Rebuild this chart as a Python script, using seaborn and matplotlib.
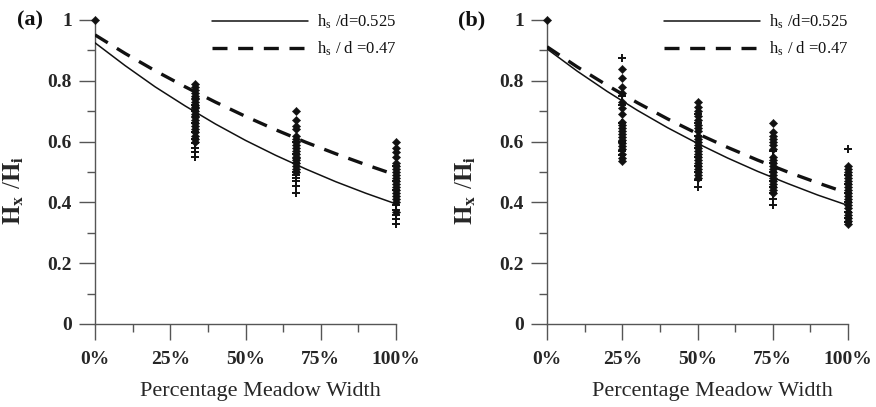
import matplotlib
matplotlib.use("Agg")  # headless
import matplotlib.pyplot as plt
from matplotlib.ticker import MultipleLocator, FuncFormatter
import pandas as pd
import seaborn as sns

# fitted curves, every 10 %
curve_x = [0, 10, 20, 30, 40, 50, 60, 70, 80, 90, 100]
a_solid = [0.925, 0.850, 0.780, 0.717, 0.658, 0.604, 0.555, 0.510, 0.468, 0.430, 0.395]
a_dashed = [0.951, 0.890, 0.833, 0.780, 0.730, 0.683, 0.639, 0.598, 0.560, 0.524, 0.490]
b_solid = [0.905, 0.832, 0.765, 0.703, 0.646, 0.594, 0.546, 0.502, 0.462, 0.424, 0.390]
b_dashed = [0.912, 0.846, 0.785, 0.728, 0.675, 0.626, 0.581, 0.539, 0.500, 0.464, 0.430]

# measured points (x in % of meadow width)
a_diamond = {
    0: [1.0],
    100 / 3: [0.79, 0.78, 0.77, 0.76, 0.75, 0.745, 0.74, 0.73, 0.72, 0.715, 0.71, 0.70,
              0.69, 0.685, 0.68, 0.67, 0.66, 0.65, 0.64, 0.63, 0.62, 0.61, 0.60],
    200 / 3: [0.70, 0.67, 0.65, 0.64, 0.62, 0.61, 0.60, 0.59, 0.58, 0.57, 0.56, 0.55,
              0.545, 0.54, 0.53, 0.52, 0.51, 0.50],
    100: [0.60, 0.58, 0.565, 0.55, 0.53, 0.52, 0.51, 0.50, 0.49, 0.48, 0.47, 0.46,
          0.45, 0.44, 0.43, 0.42, 0.41, 0.40, 0.37],
}
a_plus = {
    100 / 3: [0.72, 0.70, 0.66, 0.63, 0.61, 0.595, 0.58, 0.565, 0.55],
    200 / 3: [0.60, 0.56, 0.53, 0.50, 0.49, 0.48, 0.47, 0.455, 0.43],
    100: [0.52, 0.47, 0.44, 0.39, 0.375, 0.36, 0.345, 0.33],
}
b_diamond = {
    0: [1.0],
    25: [0.84, 0.81, 0.78, 0.76, 0.73, 0.71, 0.69, 0.665, 0.655, 0.645, 0.635, 0.625,
         0.615, 0.605, 0.595, 0.585, 0.575, 0.56, 0.545, 0.535],
    50: [0.73, 0.715, 0.70, 0.685, 0.67, 0.655, 0.645, 0.635, 0.62, 0.61, 0.60, 0.59,
         0.58, 0.57, 0.56, 0.55, 0.54, 0.53, 0.52, 0.51, 0.50, 0.49, 0.48],
    75: [0.66, 0.63, 0.62, 0.61, 0.60, 0.59, 0.575, 0.55, 0.54, 0.53, 0.52, 0.51,
         0.50, 0.49, 0.48, 0.47, 0.46, 0.45, 0.44, 0.43],
    100: [0.52, 0.51, 0.50, 0.49, 0.48, 0.47, 0.46, 0.45, 0.44, 0.43, 0.42, 0.41,
          0.40, 0.39, 0.38, 0.37, 0.36, 0.35, 0.34, 0.33],
}
b_plus = {
    25: [0.875, 0.75, 0.72, 0.66, 0.60, 0.57, 0.555],
    50: [0.69, 0.66, 0.62, 0.58, 0.55, 0.52, 0.50, 0.475, 0.45],
    75: [0.57, 0.53, 0.50, 0.47, 0.45, 0.43, 0.41, 0.39],
    100: [0.575, 0.49, 0.46, 0.43, 0.40, 0.37, 0.35, 0.335],
}

legend_labels = [r"h$_\mathregular{s}$ /d=0.525", r"h$_\mathregular{s}$ / d =0.47"]
panel_tags = ["(a)", "(b)"]


def _long(points: dict) -> pd.DataFrame:
    rows = [(x, y) for x, ys in points.items() for y in ys]
    return pd.DataFrame(rows, columns=["x", "y"])


def _ytick(v, _):
    v = round(v, 2)
    if v in (0, 1):
        return f"{v:.0f}"
    return f"{v:.1f}"


sns.set_theme(style="ticks")
plt.rcParams["font.family"] = ["Liberation Serif", "DejaVu Serif"]
plt.rcParams["mathtext.fontset"] = "stix"

fig = plt.figure(figsize=(8.76, 4.07), dpi=100)
ax_a = fig.add_axes([95 / 876, 83 / 407, 301 / 876, 304 / 407])
ax_b = fig.add_axes([547 / 876, 83 / 407, 301 / 876, 304 / 407])

panels = [
    (ax_a, a_solid, a_dashed, a_diamond, a_plus),
    (ax_b, b_solid, b_dashed, b_diamond, b_plus),
]

ink = "#111111"
axis_grey = "#555555"

for i, (ax, solid, dashed, diam, plus) in enumerate(panels):
    sns.lineplot(x=curve_x, y=solid, ax=ax, color=ink, linewidth=1.1,
                 label=legend_labels[0], zorder=3)
    sns.lineplot(x=curve_x, y=dashed, ax=ax, color=ink, linewidth=2.4,
                 linestyle=(0, (4.5, 3.2)), label=legend_labels[1], zorder=3)

    d = _long(diam)
    p = _long(plus)
    sns.scatterplot(data=d, x="x", y="y", ax=ax, marker="D", s=18, color=ink,
                    edgecolor=ink, linewidth=0.3, clip_on=False, zorder=4)
    sns.scatterplot(data=p, x="x", y="y", ax=ax, marker="+", s=40, color=ink,
                    linewidth=1.4, clip_on=False, zorder=4)

    ax.set_xlim(0, 100)
    ax.set_ylim(0, 1)
    sns.despine(ax=ax)
    for side in ("left", "bottom"):
        ax.spines[side].set_color(axis_grey)
        ax.spines[side].set_linewidth(1.0)

    ax.xaxis.set_major_locator(MultipleLocator(25))
    ax.xaxis.set_minor_locator(MultipleLocator(12.5))
    ax.yaxis.set_major_locator(MultipleLocator(0.2))
    ax.yaxis.set_minor_locator(MultipleLocator(0.1))
    ax.xaxis.set_major_formatter(FuncFormatter(lambda v, _: f"{v:.0f}%"))
    ax.yaxis.set_major_formatter(FuncFormatter(_ytick))
    ax.tick_params(axis="both", which="major", direction="out", length=11.5,
                   width=1.0, color=axis_grey, labelsize=14)
    ax.tick_params(axis="both", which="minor", direction="out", length=6,
                   width=1.0, color=axis_grey)
    ax.tick_params(axis="x", which="major", pad=8)
    ax.tick_params(axis="y", which="major", pad=5)
    for lab in ax.get_xticklabels() + ax.get_yticklabels():
        lab.set_fontweight("bold")

    ax.set_xlabel("Percentage Meadow Width", fontsize=16)
    ax.xaxis.set_label_coords(0.55, -0.19)
    ax.set_ylabel(r"$\mathbf{H_x}$ /$\mathbf{H_i}$", fontsize=18)
    ax.yaxis.set_label_coords(-0.23, 0.44)

    leg = ax.legend(loc="upper right", bbox_to_anchor=(1.0, 1.025), frameon=False,
                    fontsize=12, handlelength=5.8, handletextpad=0.5,
                    labelspacing=0.55, borderaxespad=0, borderpad=0)
    for t in leg.get_texts():
        t.set_color(ink)

    fig.text((30 if i == 0 else 472) / 876, 1 - 20 / 407, panel_tags[i],
             fontsize=16, fontweight="bold", ha="center", va="center", color=ink)

fig.savefig("out.png", dpi=100)
plt.close(fig)
